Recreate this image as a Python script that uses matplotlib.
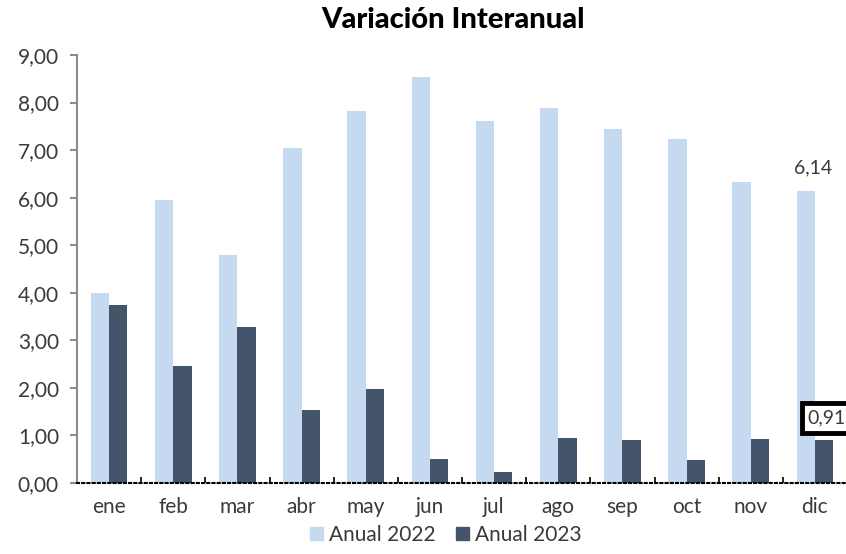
import matplotlib
matplotlib.use("Agg")
import matplotlib.pyplot as plt
import matplotlib.patches as mpatches
import numpy as np

months = ["ene", "feb", "mar", "abr", "may", "jun", "jul", "ago", "sep", "oct", "nov", "dic"]
anual_2022 = [4.00, 5.96, 4.80, 7.04, 7.83, 8.54, 7.61, 7.89, 7.44, 7.24, 6.32, 6.14]
anual_2023 = [3.74, 2.45, 3.29, 1.54, 1.98, 0.51, 0.23, 0.95, 0.90, 0.49, 0.92, 0.91]
y_ticks = [0, 1, 2, 3, 4, 5, 6, 7, 8, 9]

C22 = "#c5d9f1"
C23 = "#44546a"
TXT = "#3a3a3a"

plt.rcParams["font.family"] = ["Lato", "DejaVu Sans"]

fig = plt.figure(figsize=(8.46, 5.54), dpi=100)
ax = fig.add_axes([77 / 846, 71 / 554, 770 / 846, 428 / 554])

x = np.arange(len(months))
w = 0.285
ax.bar(x - w / 2, anual_2022, width=w, color=C22, label="Anual 2022", zorder=2)
ax.bar(x + w / 2, anual_2023, width=w, color=C23, label="Anual 2023", zorder=2)

ax.set_xlim(-0.5, len(months) - 0.5)
ax.set_ylim(0, 9)
ax.set_yticks(y_ticks)
ax.set_yticklabels([f"{v:.2f}".replace(".", ",") for v in y_ticks],
                   fontsize=15, color=TXT)
ax.set_xticks(x)
ax.set_xticklabels(months, fontsize=15, color=TXT)
ax.set_xticks(np.arange(-0.5, len(months), 1), minor=True)

for s in ["top", "right"]:
    ax.spines[s].set_visible(False)
ax.spines["left"].set_color("#8c8c8c")
ax.spines["left"].set_linewidth(1.5)
ax.spines["bottom"].set_color("black")
ax.spines["bottom"].set_linestyle((0, (1, 1.5)))
ax.spines["bottom"].set_linewidth(1.5)
ax.spines["bottom"].set_zorder(3)

ax.tick_params(axis="y", length=5, width=1.5, color="#8c8c8c", pad=8)
ax.tick_params(axis="x", which="major", direction="in", length=2, width=1.5,
               color="black", pad=10)
ax.tick_params(axis="x", which="minor", direction="in", length=4, width=1.2,
               color="black")

fig.text(453 / 846, 1 - 20 / 554, "Variación Interanual", fontsize=21,
         fontweight="black", color="black", ha="center", va="center")

# data labels for last month
ax.text(x[-1] - 0.03, 6.62, f"{anual_2022[-1]:.2f}".replace(".", ","),
        fontsize=14, color=TXT, ha="center", va="center")
ax.text(x[-1] - 0.11, 1.37, f"{anual_2023[-1]:.2f}".replace(".", ","),
        fontsize=14, color=TXT, ha="left", va="center",
        bbox=dict(boxstyle="square,pad=0.32", facecolor="white",
                  edgecolor="black", linewidth=3.5), clip_on=False)

handles = [mpatches.Patch(color=C22, label="Anual 2022"),
           mpatches.Patch(color=C23, label="Anual 2023")]
leg = fig.legend(handles=handles, loc="lower center", bbox_to_anchor=(446 / 846, -0.018),
                 ncol=2, frameon=False, fontsize=15, handlelength=0.6,
                 handleheight=0.6, handletextpad=0.3, columnspacing=1.0)
for t in leg.get_texts():
    t.set_color(TXT)

fig.savefig("out.png", dpi=100)
